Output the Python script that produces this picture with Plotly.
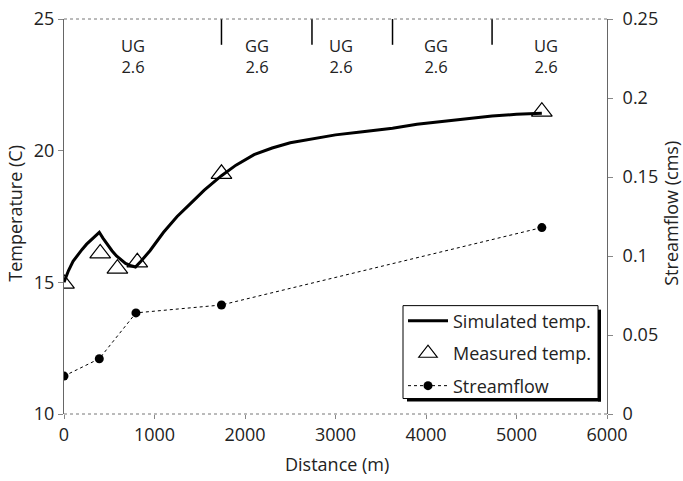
import plotly.graph_objects as go

# ---------------- data ----------------
sim_x = [0, 50, 100, 150, 200, 250, 300, 350, 390, 430, 480, 530, 580, 630, 680, 730, 790,
         850, 950, 1100, 1250, 1400, 1550, 1740, 1900, 2100, 2300, 2500, 2740, 3000, 3300,
         3630, 3900, 4200, 4500, 4730, 5000, 5280]
sim_t = [15.0, 15.45, 15.8, 16.05, 16.25, 16.45, 16.62, 16.78, 16.9, 16.68, 16.42, 16.2, 16.0,
         15.85, 15.72, 15.64, 15.58, 15.8, 16.2, 16.9, 17.5, 18.0, 18.5, 19.05, 19.45, 19.85,
         20.1, 20.3, 20.45, 20.6, 20.72, 20.85, 21.0, 21.12, 21.24, 21.32, 21.38, 21.42]

meas_x = [0, 400, 590, 810, 1740, 5280]
meas_t = [14.95, 16.1, 15.52, 15.76, 19.12, 21.48]

flow_x = [0, 390, 795, 1740, 5280]
flow_q = [0.024, 0.035, 0.064, 0.069, 0.118]

reach_breaks = [1740, 2740, 3630, 4730]
reach_label_x = [760, 2130, 3065, 4110, 5325]
reach_labels = ["UG<br>2.6", "GG<br>2.6", "UG<br>2.6", "GG<br>2.6", "UG<br>2.6"]

x_ticks = [0, 1000, 2000, 3000, 4000, 5000, 6000]
t_ticks = [10, 15, 20, 25]
q_ticks = [0, 0.05, 0.1, 0.15, 0.2, 0.25]
q_tick_text = ["0", "0.05", "0.1", "0.15", "0.2", "0.25"]

FONT = "Open Sans"
TXT = "#222"
FS = 18
W, H = 683, 481
# plot area in pixels: x 64..607, y 19..414.5
L, T = 64, 19
R, B = W - 607, H - 414.5
PW, PH = W - L - R, H - T - B


def px_x(p):
    return (p - L) / PW


def px_y(p):
    return 1 - (p - T) / PH


fig = go.Figure()
fig.add_trace(go.Scatter(x=sim_x, y=sim_t, mode="lines", name="Simulated temp.",
                         line=dict(color="black", width=3), legendgroup="a"))
fig.add_trace(go.Scatter(x=meas_x, y=meas_t, mode="markers", name="Measured temp.",
                         marker=dict(symbol="triangle-up-open", size=18, color="black",
                                     line=dict(width=1.2)), legendgroup="b"))
fig.add_trace(go.Scatter(x=flow_x, y=flow_q, mode="lines+markers", name="Streamflow",
                         yaxis="y2", line=dict(color="black", width=1, dash="dot"),
                         marker=dict(symbol="circle", size=9, color="black"), legendgroup="c"))

shapes = []
for bx in reach_breaks:
    shapes.append(dict(type="line", xref="x", yref="y", x0=bx, x1=bx, y0=24.02, y1=25,
                       line=dict(color="black", width=1.5)))
# dotted top & bottom frame
shapes.append(dict(type="line", xref="paper", yref="paper", x0=0, x1=1, y0=1, y1=1,
                   line=dict(color="#777", width=1, dash="dot")))
shapes.append(dict(type="line", xref="paper", yref="paper", x0=0, x1=1, y0=0, y1=0,
                   line=dict(color="#777", width=1, dash="dot")))

# legend box (px) with drop shadow
lg_left, lg_top, lg_right, lg_bottom = 403, 306, 598, 399
shapes.append(dict(type="rect", xref="paper", yref="paper", layer="above",
                   x0=px_x(lg_right), x1=px_x(lg_right + 3), y0=px_y(lg_bottom + 3), y1=px_y(lg_top + 4),
                   fillcolor="black", line=dict(width=0)))
shapes.append(dict(type="rect", xref="paper", yref="paper", layer="above",
                   x0=px_x(lg_left + 4), x1=px_x(lg_right + 3), y0=px_y(lg_bottom + 3), y1=px_y(lg_bottom),
                   fillcolor="black", line=dict(width=0)))
shapes.append(dict(type="rect", xref="paper", yref="paper", layer="above",
                   x0=px_x(lg_left), x1=px_x(lg_right), y0=px_y(lg_bottom), y1=px_y(lg_top),
                   fillcolor="rgba(0,0,0,0)", line=dict(color="black", width=1)))

annotations = []
for lx, lt in zip(reach_label_x, reach_labels):
    annotations.append(dict(x=lx, y=23.58, xref="x", yref="y", text=lt, showarrow=False,
                            xanchor="center", yanchor="middle",
                            font=dict(family=FONT, size=16.5, color=TXT), align="center"))
annotations.append(dict(x=px_x(15), y=px_y(214), xref="paper", yref="paper",
                        text="Temperature (C)", textangle=-90, showarrow=False,
                        xanchor="center", yanchor="middle",
                        font=dict(family=FONT, size=FS, color=TXT)))
annotations.append(dict(x=px_x(671), y=px_y(214), xref="paper", yref="paper",
                        text="Streamflow (cms)", textangle=-90, showarrow=False,
                        xanchor="center", yanchor="middle",
                        font=dict(family=FONT, size=FS, color=TXT)))
annotations.append(dict(x=px_x(337), y=px_y(465), xref="paper", yref="paper",
                        text="Distance (m)", showarrow=False,
                        xanchor="center", yanchor="middle",
                        font=dict(family=FONT, size=FS, color=TXT)))

fig.update_layout(
    width=W, height=H,
    margin=dict(l=L, r=R, t=T, b=B),
    paper_bgcolor="white", plot_bgcolor="white",
    font=dict(family=FONT, size=FS, color=TXT),
    xaxis=dict(range=[0, 6000], tickvals=x_ticks, showgrid=False, zeroline=False,
               showline=False, ticks="outside", ticklen=4, tickcolor="#888",
               automargin=False, fixedrange=True, ticklabeloverflow="allow"),
    yaxis=dict(range=[10, 25], tickvals=t_ticks, showgrid=False, zeroline=False,
               showline=True, linecolor="#666", linewidth=1, ticks="outside", ticklen=5,
               tickcolor="#888", automargin=False, ticklabeloverflow="allow"),
    yaxis2=dict(range=[0, 0.25], tickvals=q_ticks, ticktext=q_tick_text, overlaying="y",
                side="right", showgrid=False, zeroline=False, showline=True,
                linecolor="#666", linewidth=1, ticks="outside", ticklen=5, tickcolor="#888",
                automargin=False, ticklabeloverflow="allow", ticklabelstandoff=6),
    showlegend=True,
    legend=dict(x=px_x(lg_left), y=px_y(303), xanchor="left", yanchor="top",
                bgcolor="rgba(255,255,255,0)", borderwidth=0,
                font=dict(family=FONT, size=18, color=TXT),
                tracegroupgap=6, itemwidth=40),
    shapes=shapes, annotations=annotations,
)

fig.write_html("out.html", config={"displayModeBar": False},
               post_script="document.body.style.margin='0px';document.body.style.overflow='hidden';")
